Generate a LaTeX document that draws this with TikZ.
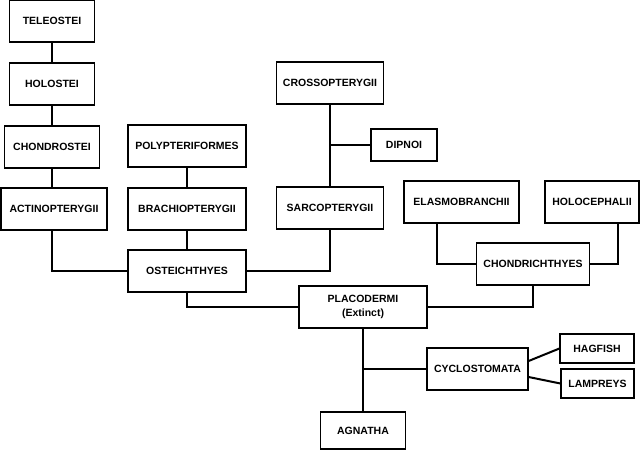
\documentclass[tikz,border=0pt]{standalone}
\usepackage{fontspec}
\setmainfont{Liberation Sans}
\usetikzlibrary{positioning, calc}

\tikzset{
  taxon/.style={draw, line width=1.2pt, minimum height=42pt, inner sep=0pt,
                font=\fontsize{10.5}{14}\selectfont\bfseries, align=center},
  link/.style={line width=2pt}
}

\begin{document}
\begin{tikzpicture}[x=1pt, y=-1pt]
  \useasboundingbox (0,0) rectangle (640,450);

  % Main boxes
  \foreach \n/\x/\y/\w/\t in {tel/52/21/85/TELEOSTEI, hol/52/84/85/HOLOSTEI,
      chs/52/147/95/CHONDROSTEI, act/54/209/106/ACTINOPTERYGII,
      pol/187/146/118/POLYPTERIFORMES, bra/187/209/118/BRACHIOPTERYGII,
      ost/187/271/118/OSTEICHTHYES, cro/330/83/107/CROSSOPTERYGII,
      sar/330/208/107/SARCOPTERYGII, ela/461.5/202/115/ELASMOBRANCHII,
      hcp/592/202/94/HOLOCEPHALII, chr/533/264/113/CHONDRICHTHYES,
      cyc/477.5/369/101/CYCLOSTOMATA} {
    \node[taxon, minimum width=\w pt] (\n) at (\x,\y) {\t};
  }
  \node[taxon, minimum width=128pt] (pla) at (363,307) {PLACODERMI\\(Extinct)};
  \node[taxon, minimum width=66pt, minimum height=32pt] (dip) at (404,145) {DIPNOI};
  \node[taxon, minimum width=74pt, minimum height=29pt] (hag) at (597,348.5) {HAGFISH};
  \node[taxon, minimum width=73pt, minimum height=29pt] (lam) at (597.5,383.5) {LAMPREYS};
  \node[taxon, minimum width=85pt, minimum height=37pt] (agn) at (363,430.5) {AGNATHA};

  % Bony fish lines
  \draw[link] (tel) -- (hol) -- (chs);
  \draw[link] (chs.south) -- (chs.south |- act.north);
  \draw[link] (pol) -- (bra) -- (ost);
  \draw[link] (act.south -| chs.south) |- (ost.west);
  \draw[link] (cro) -- (sar);
  \draw[link] (dip.west) -- (dip.west -| cro.south);
  \draw[link] (sar.south) |- (ost.east);
  \draw[link] (ost.south) |- (pla.west);

  % Cartilaginous fish lines
  \draw[link] ([xshift=-24.5pt]ela.south) |- (chr.west);
  \draw[link] ([xshift=26pt]hcp.south) |- (chr.east);
  \draw[link] (chr.south) |- (pla.east);

  % Jawless fish lines
  \draw[link] (pla) -- (agn);
  \draw[link] (cyc.west) -- (cyc.west -| pla.south);
  \draw[link] ([yshift=8pt]cyc.east) -- (hag.west);
  \draw[link] ([yshift=-8pt]cyc.east) -- (lam.west);
\end{tikzpicture}
\end{document}
